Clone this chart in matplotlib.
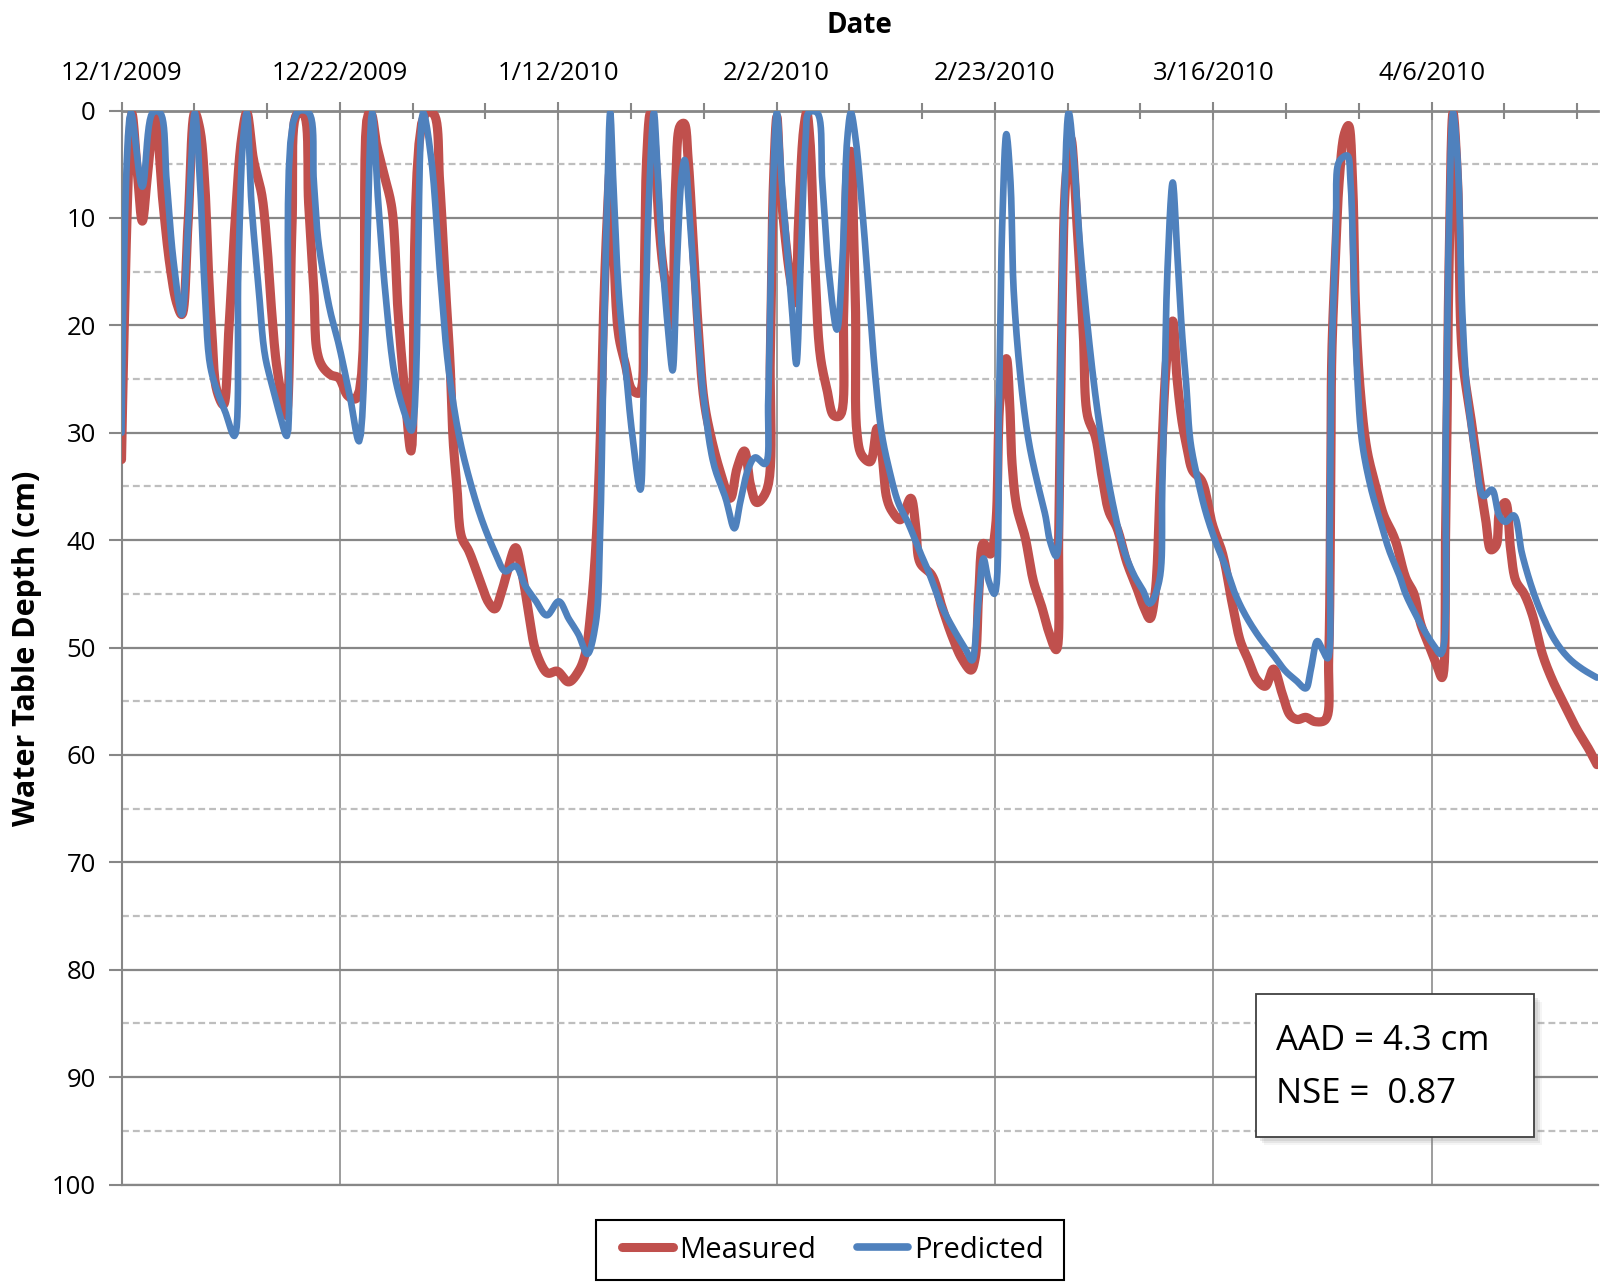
import numpy as np
import matplotlib
matplotlib.use("Agg")
import matplotlib.pyplot as plt
from matplotlib.patches import Rectangle
from matplotlib.lines import Line2D

plt.rcParams['font.family'] = ['Open Sans', 'DejaVu Sans']

W, H = 1604, 1282

# days since 12/1/2009, water table depth (cm)
measured_pts = [
    (0, 32.5), (1.0, 0.3), (1.5, 5.5), (2.0, 10.3), (2.5, 6), (3.2, 0.2), (4.0, 8.7),
    (4.7, 14.7), (5.3, 17.9), (5.8, 19.0), (6.4, 10.5), (7.05, 0.2), (7.55, 1.8),
    (8.0, 6.7), (8.35, 14.7), (8.7, 20.8), (9.15, 26), (9.8, 27.4), (10.3, 20.8),
    (10.9, 10.7), (11.55, 2.6), (12.05, 0.2), (12.7, 4.6), (13.5, 7.9), (14.0, 12.7),
    (14.45, 18.8), (14.9, 23.6), (15.6, 27.6), (15.85, 28.4), (16.4, 10.7), (16.9, 0.3),
    (17.5, 0.3), (18.0, 8.7), (18.5, 16.7), (18.8, 22.4), (19.3, 23.8), (20.1, 24.6),
    (20.9, 24.9), (21.8, 26.6), (22.6, 26.8), (23.75, 0.3), (24.0, 0.3), (24.5, 3),
    (25.2, 5.8), (26.0, 9.1), (26.6, 18.8), (27.3, 26.8), (27.85, 31.7), (29.2, 0.3),
    (30.0, 0.3), (30.6, 6.7), (31.1, 15.5), (31.6, 23.6), (31.9, 30.8), (32.25, 34.9),
    (32.7, 39.7), (33.4, 41), (34.3, 43.3), (35.3, 45.8), (35.9, 46.4), (36.5, 45),
    (37.0, 43.3), (37.9, 40.7), (38.5, 43), (39.2, 47), (39.8, 50.2), (40.75, 52.2),
    (41.1, 52.4), (41.9, 52.2), (43.0, 53.2), (43.96, 52.2), (44.6, 50.6), (45.1, 47),
    (45.6, 40.9), (46.04, 30.8), (46.36, 18.8), (46.68, 10.7), (47.0, 5.5), (47.3, 12),
    (47.8, 20.8), (48.45, 23.6), (49.1, 26), (49.8, 26.3), (50.2, 18.8), (50.5, 4.6),
    (50.85, 0.3), (51.2, 2.6), (51.7, 10.7), (52.1, 14.7), (52.6, 17.5), (52.94, 20),
    (53.3, 6.7), (53.74, 1.4), (54.1, 1.2), (54.5, 4.6), (55.0, 12.7), (55.5, 20.8),
    (56.0, 26.8), (56.6, 30), (57.6, 33.7), (58.55, 36.1), (59.2, 33.3), (59.9, 31.7),
    (60.5, 34.9), (61.1, 36.5), (62.07, 35.3), (62.4, 22.8), (62.7, 6.7), (63.03, 0.6),
    (63.35, 6.7), (63.84, 11.9), (64.3, 15.5), (64.8, 17.9), (65.1, 10.7), (65.6, 1.8),
    (65.9, 0.2), (66.2, 2.6), (66.7, 14.7), (67.2, 22.8), (67.85, 26), (68.5, 28.4),
    (69.1, 28.4), (69.45, 18.8), (69.9, 4.6), (70.15, 3.8), (70.4, 10.7), (70.6, 18.8),
    (70.73, 30), (71.2, 32.1), (72.0, 32.7), (72.66, 29.6), (73.1, 31.7), (73.6, 36.1),
    (74.1, 37.3), (74.9, 38.1), (75.9, 36.1), (76.4, 38.9), (76.8, 42.1), (77.95, 43.3),
    (78.9, 46.2), (79.9, 49), (80.8, 51), (81.7, 52.1), (82.1, 51), (82.44, 45),
    (82.9, 40.3), (83.56, 41.3), (84.05, 38.9), (84.5, 26.8), (85.1, 23.1), (85.4, 26.8),
    (85.65, 32.9), (86.1, 36.9), (86.9, 39.7), (87.7, 43.8), (88.5, 46.2), (89.2, 48.6),
    (89.9, 50.2), (90.14, 38.9), (90.46, 18.8), (90.8, 6.7), (91.3, 2.6), (91.9, 10.7),
    (92.5, 20.8), (92.9, 28.4), (93.67, 30.4), (94.3, 34.1), (94.95, 37.3), (95.75, 38.9),
    (96.7, 42.1), (97.7, 44.6), (98.3, 46.2), (98.9, 47.3), (99.4, 45), (99.9, 34.9),
    (100.56, 22.8), (101.1, 19.6), (101.5, 24.8), (102.0, 29), (102.5, 31.5),
    (103.0, 33.5), (103.9, 34.5), (104.9, 38.5), (105.9, 41.3), (106.8, 45.8),
    (107.6, 49.4), (108.3, 51), (109.2, 53), (110.0, 53.6), (110.8, 52), (111.6, 54.2),
    (112.4, 56.3), (113.1, 56.7), (113.9, 56.5), (114.8, 56.9), (115.8, 56.7),
    (116.1, 51), (116.3, 34.9), (116.4, 22.8), (116.8, 12.7), (117.1, 6.7), (117.6, 2.2),
    (118.0, 1.4), (118.4, 6.7), (118.7, 18.8), (119.2, 26.8), (119.8, 31.7),
    (120.6, 34.9), (121.4, 37.7), (122.2, 39.3), (122.6, 40.3), (123.5, 43.5),
    (124.3, 45), (124.95, 47.8), (125.75, 49.8), (126.55, 51.8), (127.0, 52.8),
    (127.35, 38.9), (127.67, 14.7), (128.06, 0.2), (128.5, 6.7), (128.95, 22.8),
    (129.8, 28.8), (130.56, 34.1), (131.2, 38.1), (131.7, 40.9), (132.2, 40.5),
    (132.55, 37.3), (133.1, 36.5), (133.6, 40.9), (134.1, 43.8), (134.9, 45),
    (135.7, 47), (136.65, 50.6), (137.6, 53), (138.6, 55), (139.9, 57.5),
    (141.14, 59.5), (141.9, 60.9),
]

predicted_pts = [
    (0, 30), (0.9, 0.2), (2.0, 7.1), (3.0, 0.2), (3.7, 0.2), (4.35, 6.7), (5.0, 14),
    (5.8, 19.0), (6.4, 10.7), (7.05, 0.2), (7.55, 6.7), (8.0, 16.7), (8.5, 23.6),
    (9.15, 26), (9.96, 28), (10.86, 30.3), (11.24, 14.7), (11.7, 2.6), (12.05, 0.2),
    (12.5, 8.7), (13.2, 16.7), (13.8, 22.8), (14.6, 26), (15.25, 28.4), (15.9, 30.3),
    (16.85, 0.2), (18.0, 0.2), (18.5, 6.7), (18.9, 11.9), (19.6, 16.3), (20.1, 18.8),
    (20.9, 21.8), (22.0, 26.8), (22.85, 30.8), (24.1, 0.2), (24.7, 8.7), (25.35, 16.7),
    (26.3, 24.8), (27.3, 28.4), (27.9, 29.8), (29.0, 0.2), (29.8, 4.6), (30.6, 14.7),
    (31.4, 23.6), (32.4, 30), (33.4, 34.1), (34.65, 38.1), (36.0, 41.3), (36.9, 42.9),
    (37.9, 42.4), (38.8, 44.2), (39.8, 45.6), (40.9, 47), (42.05, 45.7), (43.0, 47.3),
    (43.96, 48.8), (44.8, 50.6), (45.6, 47.8), (46.04, 38.9), (46.36, 22.8), (46.7, 8.7),
    (47.0, 0.2), (47.3, 6.7), (47.8, 16.7), (48.45, 23.6), (49.1, 30), (49.9, 35.3),
    (50.2, 26.8), (50.7, 8.7), (51.2, 0.2), (51.5, 4.6), (52.0, 13.5), (52.6, 20.8),
    (53.0, 24.2), (53.4, 14.7), (53.9, 5.8), (54.16, 4.6), (54.7, 10.7), (55.3, 18.8),
    (56.0, 26.8), (56.95, 32.9), (58.1, 36.1), (58.94, 38.9), (59.5, 36.5), (60.3, 33.3),
    (60.95, 32.3), (61.9, 32.9), (62.2, 26.8), (62.55, 10.7), (63.03, 0.2), (63.5, 6.7),
    (64.0, 12.7), (64.5, 18.8), (64.9, 23.6), (65.3, 14.7), (65.8, 2.6), (66.1, 0.2),
    (66.9, 0.2), (67.4, 6.7), (68.0, 14.7), (68.8, 20.4), (69.3, 14.7), (69.8, 2.6),
    (70.15, 0.2), (70.6, 2.6), (71.2, 8.7), (71.85, 16.7), (72.5, 24.8), (73.1, 30),
    (73.8, 33.3), (74.7, 36.5), (75.7, 38.5), (76.7, 40.9), (77.6, 42.9), (78.9, 46.2),
    (80.2, 48.6), (81.2, 50.2), (81.8, 51.2), (82.3, 47), (82.9, 41.7), (83.4, 43.8),
    (83.95, 45), (84.4, 26.8), (84.7, 10.7), (85.1, 2.2), (85.5, 6.7), (85.8, 16.7),
    (86.45, 24.8), (87.25, 30.8), (88.05, 34.5), (88.85, 37.7), (89.3, 40.1),
    (89.9, 41.5), (90.3, 26.8), (90.6, 10.7), (91.1, 0.2), (91.6, 4.6), (92.2, 12.7),
    (92.9, 20), (93.7, 26.8), (94.5, 32.1), (95.4, 36.9), (96.4, 40.9), (97.4, 43.3),
    (98.2, 44.6), (98.9, 45.9), (99.8, 43.8), (100.1, 34.9), (100.6, 14.7), (101.1, 6.7),
    (101.5, 12.7), (102.0, 20.8), (102.4, 25.5), (102.8, 30.8), (103.45, 34.1),
    (104.25, 37.3), (105.2, 40.1), (106.2, 42.5), (107.1, 45), (108.1, 47), (109.4, 49),
    (110.7, 50.6), (111.95, 52.2), (112.9, 53), (113.9, 53.8), (114.35, 52.2),
    (115.0, 49.4), (115.5, 50.2), (116.0, 51), (116.2, 38.9), (116.4, 22.8),
    (116.8, 10.7), (117.0, 5), (117.4, 4.4), (117.9, 4.2), (118.2, 6.7), (118.5, 14.7),
    (118.85, 24.8), (119.3, 30.8), (120.1, 34.9), (120.9, 37.7), (121.9, 40.9),
    (122.9, 43.3), (123.5, 45), (124.5, 47), (125.4, 48.6), (126.2, 49.8), (126.9, 50.6),
    (127.35, 30.8), (127.67, 10.7), (128.06, 0.2), (128.5, 4.6), (128.95, 18.8),
    (129.4, 26), (130.2, 32.1), (131.0, 35.9), (131.8, 35.3), (132.5, 37.7),
    (133.1, 38.3), (133.9, 37.7), (134.7, 41.3), (135.7, 44.6), (136.65, 47),
    (137.9, 49.4), (139.2, 51), (140.5, 52), (141.9, 52.8),
]

date_ticks = [0, 21, 42, 63, 84, 105, 126]
date_labels = ['12/1/2009', '12/22/2009', '1/12/2010', '2/2/2010',
               '2/23/2010', '3/16/2010', '4/6/2010']
depth_ticks = list(range(0, 101, 10))

RED = '#C0504D'
BLUE = '#4F81BD'
GRID = '#878787'


def fx(px):
    return px / W


def fy(py):
    return 1 - py / H


def smooth(pts, n=12):
    # centripetal catmull-rom through the read points (like excel's smoothed line)
    p = np.array(pts, dtype=float)
    p = np.vstack([p[0], p, p[-1]])
    out = []
    for i in range(1, len(p) - 2):
        p0, p1, p2, p3 = p[i - 1], p[i], p[i + 1], p[i + 2]
        t0 = 0.0
        t1 = t0 + max(np.linalg.norm(p1 - p0), 1e-6) ** 0.5
        t2 = t1 + max(np.linalg.norm(p2 - p1), 1e-6) ** 0.5
        t3 = t2 + max(np.linalg.norm(p3 - p2), 1e-6) ** 0.5
        t = np.linspace(t1, t2, n, endpoint=False)[:, None]
        a1 = (t1 - t) / (t1 - t0) * p0 + (t - t0) / (t1 - t0) * p1
        a2 = (t2 - t) / (t2 - t1) * p1 + (t - t1) / (t2 - t1) * p2
        a3 = (t3 - t) / (t3 - t2) * p2 + (t - t2) / (t3 - t2) * p3
        b1 = (t2 - t) / (t2 - t0) * a1 + (t - t0) / (t2 - t0) * a2
        b2 = (t3 - t) / (t3 - t1) * a2 + (t - t1) / (t3 - t1) * a3
        out.append((t2 - t) / (t2 - t1) * b1 + (t - t1) / (t2 - t1) * b2)
    out.append(p[-2][None, :])
    c = np.vstack(out)
    return c[:, 0], c[:, 1]


fig = plt.figure(figsize=(W / 100, H / 100), dpi=100)
ax = fig.add_axes([fx(121.5), fy(1184.6), (1598 - 121.5) / W, (1184.6 - 110.5) / H])

mx, my = smooth(measured_pts)
px_, py_ = smooth(predicted_pts)
ax.plot(mx, my, color=RED, lw=6.6, solid_joinstyle='round', solid_capstyle='round', zorder=3)
ax.plot(px_, py_, color=BLUE, lw=4.8, solid_joinstyle='round', solid_capstyle='round', zorder=4)

ax.set_xlim(0, 142)
ax.set_ylim(100, 0)

ax.set_xticks(date_ticks)
ax.set_xticklabels(date_labels)
ax.set_xticks([d for d in range(7, 141, 7) if d not in date_ticks], minor=True)
ax.xaxis.tick_top()
ax.tick_params(axis='x', which='both', direction='inout', color=GRID, width=1.5,
               labelsize=18.5, pad=11)
ax.tick_params(axis='x', which='major', length=13)
ax.tick_params(axis='x', which='minor', length=12)

ax.set_yticks(depth_ticks)
ax.set_yticks(range(5, 100, 10), minor=True)
ax.tick_params(axis='y', which='major', direction='out', length=9.5, width=1.5,
               color=GRID, labelsize=18.5, pad=9)
ax.tick_params(axis='y', which='minor', length=0)

ax.yaxis.grid(True, which='major', color=GRID, lw=1.6, zorder=1)
ax.yaxis.grid(True, which='minor', color='#BEBEBE', lw=1.6, ls=(0, (3.1, 1.8)), zorder=1)
ax.xaxis.grid(True, which='major', color='#8C8C8C', lw=1.2, zorder=1)
ax.set_axisbelow(True)

ax.spines['right'].set_visible(False)
for s in ['top', 'left', 'bottom']:
    ax.spines[s].set_color(GRID)
ax.spines['top'].set_linewidth(2)
ax.spines['left'].set_linewidth(1.5)
ax.spines['bottom'].set_linewidth(1.6)

fig.text(fx(859), fy(33), 'Date', ha='center', va='baseline', fontsize=20, fontweight='bold')
fig.text(fx(27), fy(648), 'Water Table Depth (cm)', rotation=90, ha='center', va='center',
         fontsize=22, fontweight='bold')

# stats box with soft shadow
bx0, by0, bx1, by1 = 1256, 994, 1534, 1137
for k, a in [(8, 0.08), (6, 0.12), (4, 0.16)]:
    fig.patches.append(Rectangle((fx(bx0 + k), fy(by1 + k)), (bx1 - bx0) / W, (by1 - by0) / H,
                                 transform=fig.transFigure, facecolor='#808080', edgecolor='none',
                                 alpha=a, zorder=5))
fig.patches.append(Rectangle((fx(bx0), fy(by1)), (bx1 - bx0) / W, (by1 - by0) / H,
                             transform=fig.transFigure, facecolor='white', edgecolor='#404040',
                             lw=1.3, zorder=6))
fig.text(fx(1276), fy(1050), 'AAD = 4.3 cm', fontsize=25, va='baseline', zorder=7)
fig.text(fx(1276), fy(1103), 'NSE =  0.87', fontsize=25, va='baseline', zorder=7)

# legend: frame drawn by hand so its padding matches
fig.patches.append(Rectangle((fx(596), fy(1280)), (1064 - 596) / W, (1280 - 1220) / H,
                             transform=fig.transFigure, facecolor='white', edgecolor='black',
                             lw=1.5, zorder=5))
handles = [Line2D([], [], color=RED, lw=6.5, solid_capstyle='round'),
           Line2D([], [], color=BLUE, lw=5.5, solid_capstyle='round')]
leg = fig.legend(handles, ['Measured', 'Predicted'], loc='center',
                 bbox_to_anchor=(fx(833), fy(1250)), ncol=2, fontsize=21, frameon=False,
                 handlelength=1.75, handletextpad=0.2, columnspacing=1.4, borderpad=0.3)
leg.set_zorder(8)

fig.savefig('out.png', dpi=100)
